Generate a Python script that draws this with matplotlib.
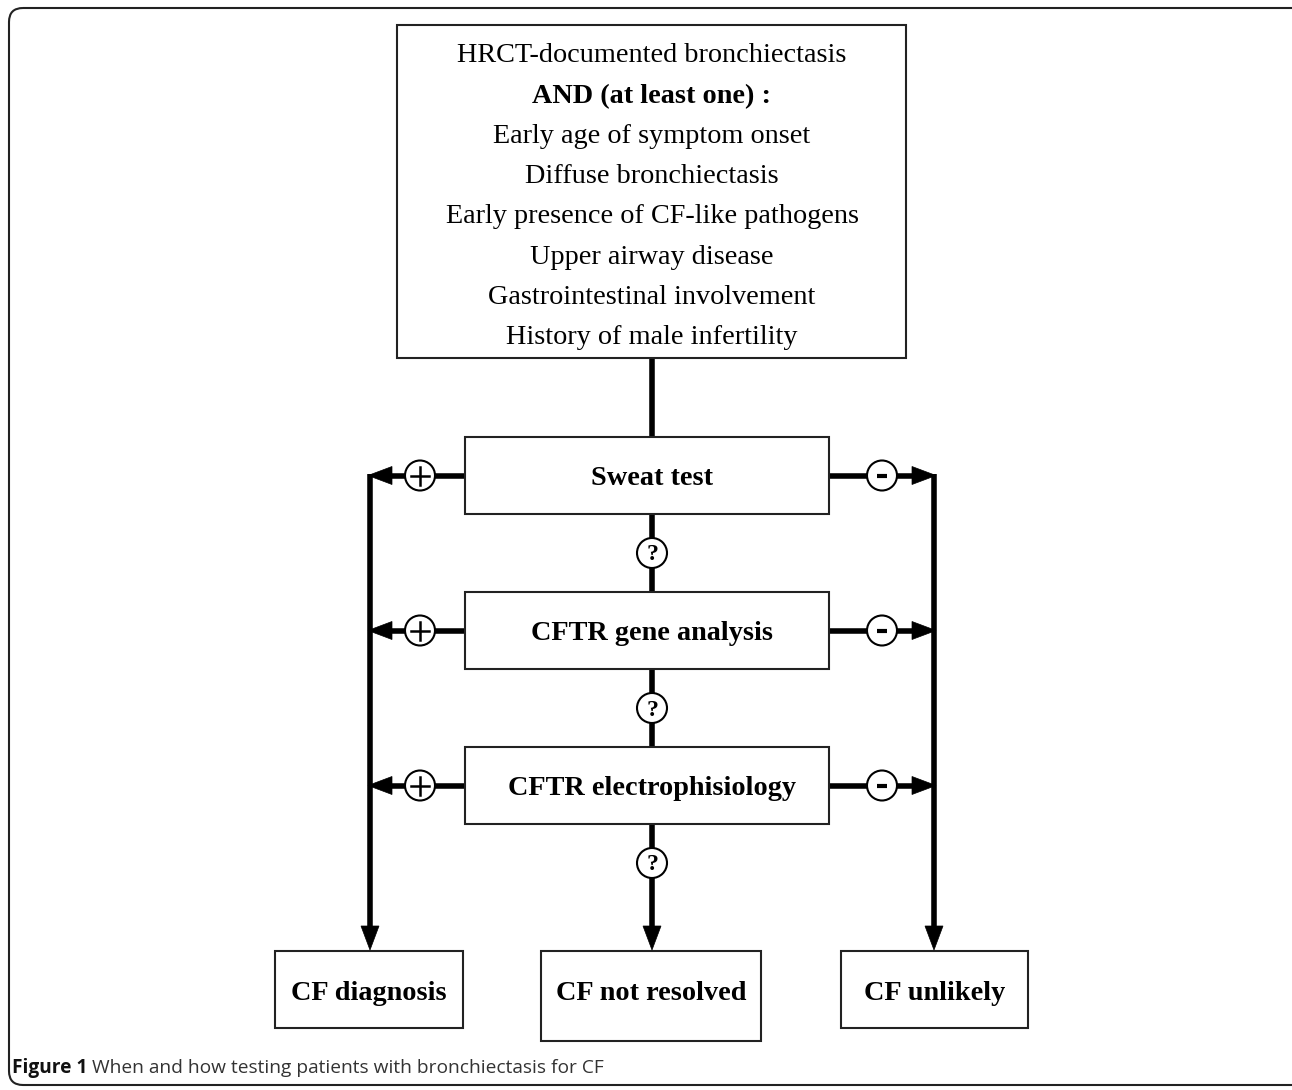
import matplotlib.pyplot as plt
from matplotlib.patches import Rectangle, Circle, FancyBboxPatch, Polygon

# chart content
criteria_head = 'HRCT-documented bronchiectasis'
criteria_and = 'AND (at least one) :'
criteria = ['Early age of symptom onset',
            'Diffuse bronchiectasis',
            'Early presence of CF-like pathogens',
            'Upper airway disease',
            'Gastrointestinal involvement',
            'History of male infertility']
tests = ['Sweat test', 'CFTR gene analysis', 'CFTR electrophisiology']
outcomes = ['CF diagnosis', 'CF not resolved', 'CF unlikely']
pos_sign, neg_sign, unk_sign = '+', '-', '?'
caption_bold = 'Figure 1'
caption_text = ' When and how testing patients with bronchiectasis for CF'

W, H = 1292, 1090
SERIF = ['Liberation Serif', 'DejaVu Serif']
LW = 4
FS = 20.3

fig = plt.figure(figsize=(W / 100, H / 100), dpi=100)
ax = fig.add_axes([0, 0, 1, 1])
ax.set_xlim(0, W)
ax.set_ylim(H, 0)
ax.axis('off')

# outer frame
ax.add_patch(FancyBboxPatch((9, 8), 1320, 1077, boxstyle='round,pad=0,rounding_size=14',
                            fill=False, lw=1.5, ec='#222222'))


def box(x0, y0, x1, y1):
    ax.add_patch(Rectangle((x0, y0), x1 - x0, y1 - y0, fill=True, fc='white',
                           ec='#222222', lw=1.5, zorder=3))


def head(x, y, direction):
    L, hw = 24, 9
    if direction == 'left':
        pts = [(x, y), (x + L, y - hw), (x + L, y + hw)]
    elif direction == 'right':
        pts = [(x, y), (x - L, y - hw), (x - L, y + hw)]
    else:
        pts = [(x, y), (x - hw, y - L), (x + hw, y - L)]
    ax.add_patch(Polygon(pts, closed=True, fc='black', ec='black', lw=0.5, zorder=4))


def sign(x, y, s):
    ax.add_patch(Circle((x, y), 15, fc='white', ec='black', lw=1.5, zorder=5))
    if s == '+':
        ax.plot([x - 9, x + 9], [y, y], color='black', lw=1.8, zorder=6)
        ax.plot([x, x], [y - 9, y + 9], color='black', lw=1.8, zorder=6)
    elif s == '-':
        ax.plot([x - 5, x + 5], [y, y], color='black', lw=3, zorder=6, solid_capstyle='butt')
    else:
        ax.text(x, y + 2, s, ha='center', va='center', fontsize=17, fontweight='bold',
                family=SERIF, zorder=6)


# top criteria box
box(397, 25, 906, 358)
cx = 652
lines = [criteria_head, criteria_and] + criteria
for i, t in enumerate(lines):
    ax.text(cx, 56 + i * 40.2, t, ha='center', va='center', fontsize=FS,
            fontweight='bold' if t == criteria_and else 'normal', family=SERIF, zorder=4)

# test boxes
tops = [437, 592, 747]
bh = 77
for t, y0 in zip(tests, tops):
    box(465, y0, 829, y0 + bh)
    yc = y0 + bh / 2
    ax.text(cx, yc + 3, t, ha='center', va='center', fontsize=FS, fontweight='bold',
            family=SERIF, zorder=4)
    # positive branch to the left
    ax.plot([465, 385], [yc, yc], color='black', lw=LW, zorder=2, solid_capstyle='butt')
    head(368, yc, 'left')
    sign(420, yc, pos_sign)
    # negative branch to the right
    ax.plot([829, 915], [yc, yc], color='black', lw=LW, zorder=2, solid_capstyle='butt')
    head(936, yc, 'right')
    sign(882, yc, neg_sign)

# central spine
ax.plot([cx, cx], [358, 437], color='black', lw=LW, zorder=2)
for y0 in tops[:2]:
    ax.plot([cx, cx], [y0 + bh, y0 + bh + 78], color='black', lw=LW, zorder=2)
ax.plot([cx, cx], [tops[2] + bh, 930], color='black', lw=LW, zorder=2)
head(cx, 950, 'down')
for y0 in tops:
    sign(cx, y0 + bh + 39, unk_sign)

# side verticals
yc0 = tops[0] + bh / 2
ax.plot([370, 370], [yc0 - 2, 930], color='black', lw=LW, zorder=2, solid_capstyle='butt')
head(370, 950, 'down')
ax.plot([934, 934], [yc0 - 2, 930], color='black', lw=LW, zorder=2, solid_capstyle='butt')
head(934, 950, 'down')

# outcome boxes
obox = [(275, 951, 463, 1028), (541, 951, 761, 1041), (841, 951, 1028, 1028)]
for t, (x0, y0, x1, y1) in zip(outcomes, obox):
    box(x0, y0, x1, y1)
    ax.text((x0 + x1) / 2, 994, t, ha='center', va='center', fontsize=FS,
            fontweight='bold', family=SERIF, zorder=4)

# caption
cap = ax.text(12, 1068, caption_bold, ha='left', va='center', fontsize=13.8,
              fontweight='bold', family=['Open Sans', 'DejaVu Sans'], color='#111111')
fig.canvas.draw()
bb = cap.get_window_extent()
x_end = ax.transData.inverted().transform((bb.x1, bb.y0))[0]
ax.text(x_end, 1068, caption_text, ha='left', va='center', fontsize=13.8,
        family=['Open Sans', 'DejaVu Sans'], color='#333333')

fig.savefig('out.png', dpi=100)
